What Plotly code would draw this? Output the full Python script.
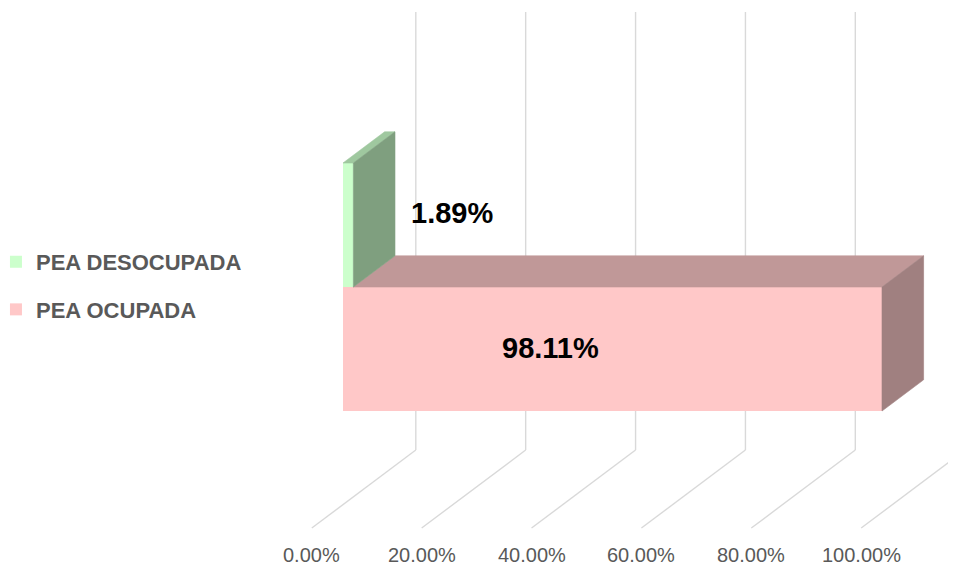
import plotly.graph_objects as go

# ---------------- data ----------------
categories = ["PEA OCUPADA", "PEA DESOCUPADA"]
values = [98.11, 1.89]
tick_values = [0, 20, 40, 60, 80, 100]
tick_labels = ["0.00%", "20.00%", "40.00%", "60.00%", "80.00%", "100.00%"]

# ---------------- style ----------------
# the page body adds an 8px margin, so the figure is sized to fill the rest
W, H = 948, 560
front_colors = ["#FFC8C8", "#CCFFCC"]
top_colors = ["#C09898", "#9FC89F"]
side_colors = ["#A08080", "#7F9F7F"]
grid_color = "#D9D9D9"
text_gray = "#595959"
FONT = "Liberation Sans, Arial, sans-serif"

X_RANGE = [-60.98, 111.58]
Y_RANGE = [-1.766, 2.75]
DX, DY = 18.93, 0.629          # full depth vector in data units
BAR_Z0, BAR_Z1 = 0.0, 0.4      # depth span of the bars
FLOOR_Z0, FLOOR_Z1 = -0.3, 0.7 # depth span of the floor / back wall
FLOOR_Y = -1.255
WALL_TOP = 2.277
TICK_Y = -1.661
LABEL_X = [37.7, 19.8]
LABEL_Y = [0.01, 1.1]

fig = go.Figure()

# front faces as real bars (also give the legend)
order = [1, 0]
for i in order:
    fig.add_trace(go.Bar(
        x=[values[i]], y=[i], orientation="h", width=1,
        marker=dict(color=front_colors[i], line=dict(width=0)),
        name=categories[i], legendgroup=categories[i],
        hoverinfo="skip",
    ))

def poly(xs, ys, color):
    fig.add_trace(go.Scatter(
        x=xs + [xs[0]], y=ys + [ys[0]], mode="lines", fill="toself",
        fillcolor=color, line=dict(color=color, width=0.6),
        showlegend=False, hoverinfo="skip",
    ))

dz = BAR_Z1 - BAR_Z0
n = len(values)
for i in range(n):
    v = values[i]
    top = i + 0.5
    bot = i - 0.5
    start = values[i + 1] if i + 1 < n else 0.0
    # top face (part behind the bar above is hidden by it)
    poly([start, v, v + dz * DX, start + dz * DX],
         [top, top, top + dz * DY, top + dz * DY], top_colors[i])
    # right side face
    poly([v, v, v + dz * DX, v + dz * DX],
         [bot, top, top + dz * DY, bot + dz * DY], side_colors[i])

# gridlines: floor diagonals and back-wall verticals
shapes = []
for t in tick_values:
    shapes.append(dict(type="line", xref="x", yref="y", layer="below",
                       x0=t + FLOOR_Z0 * DX, y0=FLOOR_Y + FLOOR_Z0 * DY,
                       x1=t + FLOOR_Z1 * DX, y1=FLOOR_Y + FLOOR_Z1 * DY,
                       line=dict(color=grid_color, width=1.4)))
    shapes.append(dict(type="line", xref="x", yref="y", layer="below",
                       x0=t + FLOOR_Z1 * DX, y0=FLOOR_Y + FLOOR_Z1 * DY,
                       x1=t + FLOOR_Z1 * DX, y1=WALL_TOP + FLOOR_Z1 * DY,
                       line=dict(color=grid_color, width=1.4)))

annotations = []
for t, lab in zip(tick_values, tick_labels):
    annotations.append(dict(x=t + FLOOR_Z0 * DX, y=TICK_Y, xref="x", yref="y",
                            text=lab, showarrow=False, xanchor="center", yanchor="middle",
                            font=dict(family=FONT, size=20, color=text_gray)))
for i in range(n):
    annotations.append(dict(x=LABEL_X[i], y=LABEL_Y[i], xref="x", yref="y",
                            text=f"{values[i]:.2f}%", showarrow=False,
                            xanchor="center", yanchor="middle",
                            font=dict(family=FONT, size=29, color="#000000", weight="bold")))

fig.update_layout(
    width=W, height=H,
    margin=dict(l=0, r=0, t=0, b=0, autoexpand=False),
    paper_bgcolor="white", plot_bgcolor="white",
    barmode="overlay",
    xaxis=dict(range=X_RANGE, visible=False, fixedrange=True),
    yaxis=dict(range=Y_RANGE, visible=False, fixedrange=True),
    shapes=shapes,
    annotations=annotations,
    showlegend=True,
    legend=dict(x=-0.0127, y=0.584, xanchor="left", yanchor="top",
                bgcolor="rgba(0,0,0,0)", tracegroupgap=16,
                font=dict(family=FONT, size=22, color=text_gray, weight="bold")),
)

fig.write_html("out.html")
